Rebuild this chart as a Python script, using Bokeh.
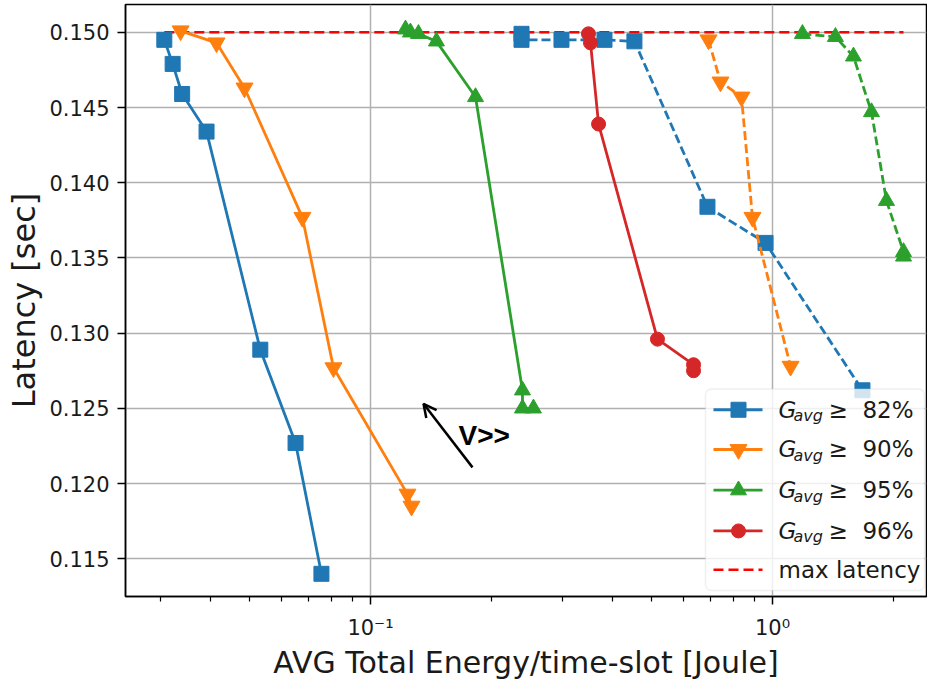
from bokeh.plotting import figure
from bokeh.models import (Range1d, LinearScale, FixedTicker, Arrow, OpenHead,
                          BoxAnnotation, PrintfTickFormatter)
from bokeh.embed import file_html
from bokeh.resources import INLINE
from bokeh.core.properties import value

# ---------------- data ----------------
g82_solid_x = [0.0307, 0.0322, 0.0340, 0.0391, 0.0532, 0.0651, 0.0755]
g82_solid_y = [0.1495, 0.1479, 0.1459, 0.1434, 0.1289, 0.1227, 0.1140]
g82_dash_x = [0.2375, 0.2375, 0.2986, 0.3820, 0.4535, 0.6890, 0.9610, 1.674]
g82_dash_y = [0.1499, 0.1495, 0.1495, 0.1495, 0.1494, 0.1384, 0.1360, 0.1262]

g90_solid_x = [0.0337, 0.0414, 0.0486, 0.0677, 0.0809, 0.1236, 0.1265]
g90_solid_y = [0.1501, 0.1493, 0.1463, 0.1377, 0.1277, 0.1193, 0.1185]
g90_dash_x = [0.6932, 0.7424, 0.8374, 0.8917, 1.109]
g90_dash_y = [0.1495, 0.1467, 0.1457, 0.1377, 0.1278]

g95_solid_x = [0.1222, 0.1257, 0.1316, 0.1459, 0.1825, 0.2388, 0.2388, 0.2543]
g95_solid_y = [0.1502, 0.1500, 0.1499, 0.1494, 0.1457, 0.1262, 0.1250, 0.1250]
g95_dash_x = [1.187, 1.434, 1.590, 1.763, 1.921, 2.118, 2.118]
g95_dash_y = [0.1499, 0.1497, 0.1484, 0.1447, 0.1388, 0.1354, 0.1351]

g96_solid_x = [0.3485, 0.3526, 0.3693, 0.5175, 0.6362, 0.6362]
g96_solid_y = [0.1499, 0.1493, 0.1439, 0.1296, 0.1279, 0.1275]

max_latency = 0.150

legend_thresholds = ["82%", "90%", "95%", "96%"]
legend_max_label = "max latency"
x_major_ticks = [0.1, 1.0]
x_major_labels = ["10⁻¹", "10⁰"]
x_minor_ticks = [0.03, 0.04, 0.05, 0.06, 0.07, 0.08, 0.09,
                 0.2, 0.3, 0.4, 0.5, 0.6, 0.7, 0.8, 0.9, 2.0]
y_ticks = [0.115, 0.120, 0.125, 0.130, 0.135, 0.140, 0.145, 0.150]
x_label = "AVG Total Energy/time-slot [Joule]"
y_label = "Latency [sec]"
note_text = "V>>"

# ---------------- styles / layout ----------------
colors = ["#1f77b4", "#ff7f0e", "#2ca02c", "#d62728"]
markers = ["square", "inverted_triangle", "triangle", "circle"]
msizes = [15, 17, 16, 14]
LW = 2.8
FONT = "DejaVu Sans"
NB = "\u00a0"

# frame occupies page pixels x 125..926, y 4..600
FL, FR, FT, FB = 125, 926, 4, 600

series = [
    (g82_solid_x, g82_solid_y, g82_dash_x, g82_dash_y),
    (g90_solid_x, g90_solid_y, g90_dash_x, g90_dash_y),
    (g95_solid_x, g95_solid_y, g95_dash_x, g95_dash_y),
    (g96_solid_x, g96_solid_y, None, None),
]

p = figure(width=927, height=682, x_axis_type="log",
           x_range=Range1d(0.02458, 2.416), y_range=Range1d(0.112491, 0.151849),
           output_backend="svg", toolbar_location=None, title=None,
           min_border_left=FL, min_border_right=927 - FR, min_border_top=FT,
           min_border_bottom=682 - FB)
p.background_fill_color = "white"
p.border_fill_color = "white"
p.outline_line_color = "black"
p.outline_line_width = 1.5

# page-pixel helper ranges (for legend / annotation layout)
p.extra_x_ranges = {"px": Range1d(FL, FR)}
p.extra_x_scales = {"px": LinearScale()}
p.extra_y_ranges = {"py": Range1d(FB, FT)}
p.extra_y_scales = {"py": LinearScale()}

# axes
p.xaxis.ticker = FixedTicker(ticks=x_major_ticks, minor_ticks=x_minor_ticks)
p.xaxis.major_label_overrides = dict(zip(x_major_ticks, x_major_labels))
p.yaxis.ticker = FixedTicker(ticks=y_ticks)
p.yaxis.formatter = PrintfTickFormatter(format="%.3f")
for ax in (p.xaxis[0], p.yaxis[0]):
    ax.axis_line_color = "black"
    ax.axis_line_width = 1.5
    ax.major_tick_out = 8
    ax.major_tick_in = 0
    ax.major_tick_line_width = 1.5
    ax.major_label_text_font = FONT
    ax.major_label_text_font_size = "21px"
    ax.major_label_text_color = "#1a1a1a"
    ax.axis_label_text_font = FONT
    ax.axis_label_text_font_style = "normal"
    ax.axis_label_text_color = "#1a1a1a"
p.xaxis.axis_label_text_font_size = "30px"
p.yaxis.axis_label_text_font_size = "32px"
p.xaxis.axis_label = x_label
p.yaxis.axis_label = y_label
p.xaxis.minor_tick_out = 5
p.xaxis.minor_tick_in = 0
p.xaxis.minor_tick_line_width = 1.2
p.yaxis.minor_tick_line_color = None
p.xaxis.major_label_standoff = 11
p.xaxis.axis_label_standoff = 2
p.yaxis.major_label_standoff = 8
p.yaxis.axis_label_standoff = 3

p.xgrid.ticker = FixedTicker(ticks=x_major_ticks)
for g in (p.xgrid[0], p.ygrid[0]):
    g.grid_line_color = "#b0b0b0"
    g.grid_line_width = 1.5

# max latency line
all_x = g82_solid_x + g82_dash_x + g90_solid_x + g90_dash_x + g95_solid_x + g95_dash_x + g96_solid_x
p.line([min(all_x), max(all_x)], [max_latency, max_latency], color="#ff0000",
       line_width=2.6, line_dash="10 5")

# series
for (sx, sy, dx, dy), c, m, s in zip(series, colors, markers, msizes):
    p.line(sx, sy, color=c, line_width=LW)
    p.scatter(sx, sy, marker=m, size=s, color=c)
    if dx is not None:
        p.line(dx, dy, color=c, line_width=LW, line_dash="9 4")
        p.scatter(dx, dy, marker=m, size=s, color=c)

# annotation arrow + text
p.add_layout(Arrow(x_start=472, y_start=470, x_end=423, y_end=406,
                   x_range_name="px", y_range_name="py",
                   end=OpenHead(size=13, line_width=2.5, line_color="black"),
                   line_width=2.5, line_color="black"))
p.text(x=[458], y=[438], text=[note_text], x_range_name="px", y_range_name="py",
       text_font=value("Liberation Sans"), text_font_style="bold",
       text_font_size="28px", text_color="black", text_baseline="middle",
       text_align="left")

# ---------------- custom legend ----------------
p.add_layout(BoxAnnotation(left=705, right=924, top=391, bottom=594,
                           x_range_name="px", y_range_name="py",
                           fill_color="white", fill_alpha=0.8,
                           line_color="#cccccc", line_width=1.5, border_radius=6))
rows = [412, 452, 493, 534, 573]
for r, c, m, s, th in zip(rows, colors, markers, msizes, legend_thresholds):
    p.line([713, 762], [r, r], x_range_name="px", y_range_name="py",
           color=c, line_width=LW, level="overlay")
    p.scatter([738], [r], x_range_name="px", y_range_name="py", marker=m,
              size=s, color=c, level="overlay")
    p.text(x=[778], y=[r], text=["G"], x_range_name="px", y_range_name="py",
           text_font=value(FONT), text_font_style="italic", text_font_size="23px",
           text_color="#1a1a1a", text_baseline="middle", level="overlay")
    p.text(x=[793], y=[r + 6], text=["avg"], x_range_name="px", y_range_name="py",
           text_font=value(FONT), text_font_style="italic", text_font_size="16px",
           text_color="#1a1a1a", text_baseline="middle", level="overlay")
    p.text(x=[828], y=[r], text=["≥" + NB + NB + th], x_range_name="px", y_range_name="py",
           text_font=value(FONT), text_font_size="23px",
           text_color="#1a1a1a", text_baseline="middle", level="overlay")
p.line([713, 762], [rows[4], rows[4]], x_range_name="px", y_range_name="py",
       color="#ff0000", line_width=2.6, line_dash="10 5", level="overlay")
p.text(x=[778], y=[rows[4]], text=[legend_max_label], x_range_name="px", y_range_name="py",
       text_font=value(FONT), text_font_size="23px", text_color="#1a1a1a",
       text_baseline="middle", level="overlay")

open("out.html", "w").write(file_html(p, INLINE))
